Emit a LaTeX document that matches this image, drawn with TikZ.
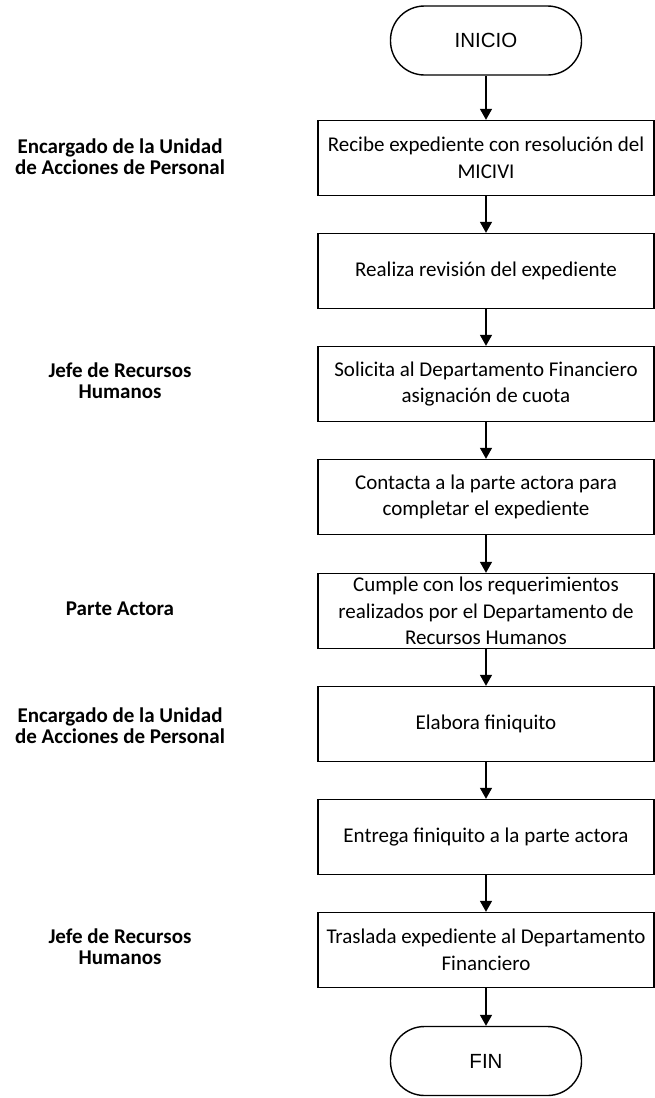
\documentclass[tikz,border=0pt]{standalone}
\usepackage{fontspec}
\setmainfont{Carlito}
\newfontfamily\arialfont{Liberation Sans}
\usetikzlibrary{arrows.meta}

\begin{document}
\begin{tikzpicture}[x=1pt, y=-1pt,
    paso/.style={draw, line width=1.4pt, minimum width=336pt, minimum height=75pt,
      inner sep=0pt, align=center, font=\fontsize{21}{26.5}\selectfont},
    terminal/.style={draw, line width=1.4pt, rounded corners=34pt, minimum width=191pt,
      minimum height=69pt, font=\arialfont\fontsize{20.5}{24}\selectfont},
    rol/.style={align=center, font=\bfseries\fontsize{21}{21}\selectfont},
    flecha/.style={-{Triangle[width=12pt, length=11pt]}, line width=1.4pt}]
    \useasboundingbox (0,0) rectangle (654,1098);

    \node[terminal] (inicio) at (486,40.5) {INICIO};
    \node[paso] (recibe) at (486,158) {Recibe expediente con resolución del\\MICIVI};
    \node[paso] (revision) at (486,271) {Realiza revisión del expediente};
    \node[paso] (solicita) at (486,384) {Solicita al Departamento Financiero\\asignación de cuota};
    \node[paso] (contacta) at (486,497) {Contacta a la parte actora para\\completar el expediente};
    \node[paso] (cumple) at (486,611) {Cumple con los requerimientos\\realizados por el Departamento de\\Recursos Humanos};
    \node[paso] (elabora) at (486,724) {Elabora finiquito};
    \node[paso] (entrega) at (486,837) {Entrega finiquito a la parte actora};
    \node[paso] (traslada) at (486,950) {Traslada expediente al Departamento\\Financiero};
    \node[terminal] (fin) at (486,1061) {FIN};

    \node[rol] (enc1) at (120,157) {Encargado de la Unidad\\de Acciones de Personal};
    \node[rol] (jefe1) at (120,381) {Jefe de Recursos\\Humanos};
    \node[rol] (parte) at (120,609) {Parte Actora};
    \node[rol] (enc2) at (120,726) {Encargado de la Unidad\\de Acciones de Personal};
    \node[rol] (jefe2) at (120,947) {Jefe de Recursos\\Humanos};

    \draw[flecha] (inicio) -- (recibe);
    \draw[flecha] (recibe) -- (revision);
    \draw[flecha] (revision) -- (solicita);
    \draw[flecha] (solicita) -- (contacta);
    \draw[flecha] (contacta) -- (cumple);
    \draw[flecha] (cumple) -- (elabora);
    \draw[flecha] (elabora) -- (entrega);
    \draw[flecha] (entrega) -- (traslada);
    \draw[flecha] (traslada) -- (fin);
\end{tikzpicture}
\end{document}
